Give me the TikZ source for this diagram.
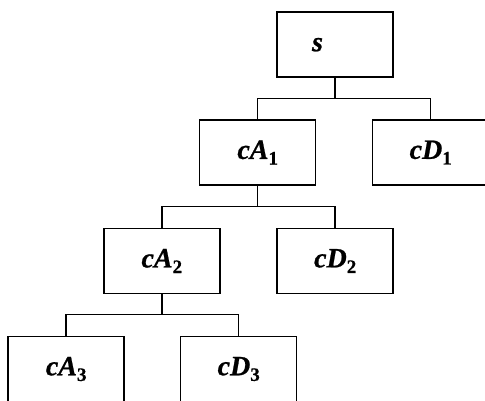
\documentclass[tikz,border=0pt]{standalone}
\usepackage{fontspec}
\setmainfont{Liberation Serif}
\newcommand{\lbl}[2]{#1\raisebox{-0.2em}{\fontsize{19}{20}\selectfont\upshape\bfseries\addfontfeatures{FakeBold=0.6}#2}}
\begin{document}
\begin{tikzpicture}[x=1pt,y=-1pt,
  box/.style={draw, line width=1.5pt, minimum width=116pt, minimum height=65pt, inner sep=0pt,
    font=\fontsize{28}{30}\selectfont\bfseries\itshape\addfontfeatures{FakeBold=0.8}},
  conn/.style={draw, line width=1.5pt}]
\useasboundingbox (0,0) rectangle (485,401);
\fill[white] (0,0) rectangle (485,401);
\node[box] (s)   at (335,44.7) {\hspace*{-35pt}s};
\node[box] (cA1) at (257.7,152.5) {\lbl{cA}{1}};
\node[box] (cD1) at (430.7,152.5) {\lbl{cD}{1}};
\node[box] (cA2) at (161.8,261) {\lbl{cA}{2}};
\node[box] (cD2) at (335.2,261) {\lbl{cD}{2}};
\node[box] (cA3) at (66.2,369) {\lbl{cA}{3}};
\node[box] (cD3) at (238.7,369) {\lbl{cD}{3}};
\coordinate (j1) at (0,98.7);
\coordinate (j2) at (0,206.7);
\coordinate (j3) at (0,314.5);
\draw[conn] (s.south) -- (s.south |- j1);
\draw[conn] (cA1.north) -- (cA1.north |- j1) -- (cD1.north |- j1) -- (cD1.north);
\draw[conn] (cA1.south) -- (cA1.south |- j2);
\draw[conn] (cA2.north) -- (cA2.north |- j2) -- (cD2.north |- j2) -- (cD2.north);
\draw[conn] (cA2.south) -- (cA2.south |- j3);
\draw[conn] (cA3.north) -- (cA3.north |- j3) -- (cD3.north |- j3) -- (cD3.north);
\end{tikzpicture}
\end{document}
